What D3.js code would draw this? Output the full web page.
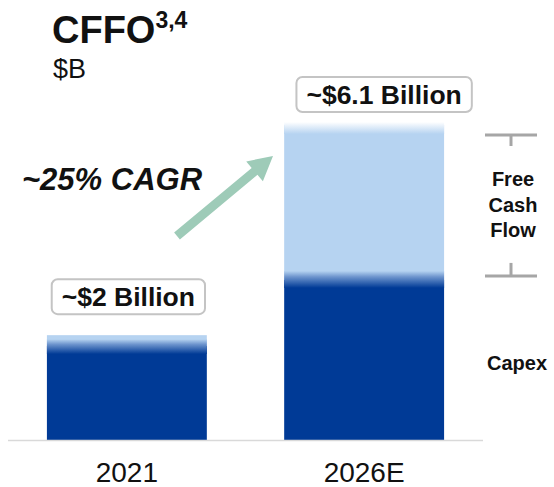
<!DOCTYPE html>
<html><head><meta charset="utf-8">
<script src="https://cdn.jsdelivr.net/npm/d3@7"></script>
<style>body{margin:0;background:#fff}svg{display:block;font-family:"Liberation Sans",Arial,sans-serif}</style>
</head><body>
<script>
const categories = ["2021", "2026E"];
const capex = [1.82, 3.1];
const freeCashFlow = [0.21, 3.0];
const totalLabels = ["~$2 Billion", "~$6.1 Billion"];
const seriesNames = ["Capex", "Free Cash Flow"];

const W = 554, H = 487;
const svg = d3.select("body").append("svg").attr("width", W).attr("height", H);
const defs = svg.append("defs");
const dark = "#003a96", light = "#b6d3f1";

const x = d3.scaleBand().domain(categories).range([8, 483]).paddingInner(0.326).paddingOuter(0.164);
const y = d3.scaleLinear().domain([0, 6.1]).range([440, 125]);

const gBand = defs.append("linearGradient").attr("id", "band").attr("x1", 0).attr("x2", 0).attr("y1", 0).attr("y2", 1);
gBand.append("stop").attr("offset", "0%").attr("stop-color", light);
gBand.append("stop").attr("offset", "35%").attr("stop-color", "#6d94cd");
gBand.append("stop").attr("offset", "100%").attr("stop-color", dark);
const gTop = defs.append("linearGradient").attr("id", "topfade").attr("x1", 0).attr("x2", 0).attr("y1", 0).attr("y2", 1);
gTop.append("stop").attr("offset", "0%").attr("stop-color", "#ffffff");
gTop.append("stop").attr("offset", "100%").attr("stop-color", light);

const data = categories.map((c, i) => ({i, cat: c, capex: capex[i], fcf: freeCashFlow[i], total: capex[i] + freeCashFlow[i], label: totalLabels[i]}));

const g = svg.append("g");
g.selectAll(".capex").data(data).join("rect")
  .attr("x", d => x(d.cat)).attr("width", x.bandwidth())
  .attr("y", d => y(d.capex)).attr("height", d => y(0) - y(d.capex)).attr("fill", dark);
g.selectAll(".fcf").data(data).join("rect")
  .attr("x", d => x(d.cat)).attr("width", x.bandwidth())
  .attr("y", d => y(d.total)).attr("height", d => y(d.capex) - y(d.total)).attr("fill", light);
g.selectAll(".band").data(data).join("rect")
  .attr("x", d => x(d.cat)).attr("width", x.bandwidth())
  .attr("y", d => Math.max(y(d.total) + 4, y(d.capex) - 9))
  .attr("height", d => y(d.capex) + 8 - Math.max(y(d.total) + 4, y(d.capex) - 9))
  .attr("fill", "url(#band)");
g.selectAll(".top").data(data.filter(d => d.fcf > 1)).join("rect")
  .attr("x", d => x(d.cat)).attr("width", x.bandwidth())
  .attr("y", d => y(d.total) - 3).attr("height", 12).attr("fill", "url(#topfade)");

svg.append("line").attr("x1", 8).attr("x2", 483).attr("y1", 440.5).attr("y2", 440.5)
  .attr("stroke", "#d9d9d9").attr("stroke-width", 1.5);

svg.selectAll(".cat").data(categories).join("text")
  .attr("x", d => x(d) + x.bandwidth() / 2).attr("y", 482)
  .attr("text-anchor", "middle").attr("font-size", 28).attr("fill", "#111").text(d => d);

const lab = svg.selectAll(".lab").data(data).join("g");
lab.each(function(d) {
  const gg = d3.select(this);
  const cx = x(d.cat) + x.bandwidth() / 2 + (d.i === 1 ? 20 : 1.5);
  const by = y(d.total) - (d.i === 1 ? 48 : 56);
  const t = gg.append("text").attr("x", cx).attr("y", by + 27).attr("text-anchor", "middle")
    .attr("font-size", 26.5).attr("font-weight", "bold").attr("fill", "#111").text(d.label);
  const bb = t.node().getBBox();
  gg.insert("rect", "text").attr("x", cx - bb.width / 2 - 10).attr("y", by).attr("width", bb.width + 20).attr("height", 35)
    .attr("rx", 6).attr("fill", "#fff").attr("stroke", "#c4c4c4").attr("stroke-width", 2);
});

const title = svg.append("text").attr("x", 52).attr("y", 43).attr("font-weight", "bold").attr("fill", "#111");
title.append("tspan").attr("font-size", 38).text("CFFO");
title.append("tspan").attr("font-size", 23).attr("dy", -15).text("3,4");
svg.append("text").attr("x", 53).attr("y", 78).attr("font-size", 27).attr("fill", "#111").text("$B");

svg.append("text").attr("x", 22).attr("y", 190).attr("font-size", 31).attr("font-weight", "bold")
  .attr("font-style", "italic").attr("fill", "#111").text("~25% CAGR");

(function() {
  const sx = 177, sy = 236, ex = 273, ey = 156;
  const dx = ex - sx, dy = ey - sy, L = Math.hypot(dx, dy);
  const ux = dx / L, uy = dy / L, nx = -uy, ny = ux;
  const hw = 4.5, headL = 24, headW = 13;
  const bx = ex - ux * headL, byy = ey - uy * headL;
  const pts = [
    [sx + nx * hw, sy + ny * hw], [bx + nx * hw, byy + ny * hw], [bx + nx * headW, byy + ny * headW],
    [ex, ey], [bx - nx * headW, byy - ny * headW], [bx - nx * hw, byy - ny * hw], [sx - nx * hw, sy - ny * hw]
  ];
  svg.append("path").attr("d", d3.line()(pts) + "Z").attr("fill", "#9ecbb8");
})();

const bx0 = 485, bx1 = 537, bxc = 511;
const bTop = y(data[1].total) + 10, bBot = y(data[1].capex) - 4;
const br = svg.append("g").attr("stroke", "#a6a6a6").attr("stroke-width", 3);
br.append("line").attr("x1", bx0).attr("x2", bx1).attr("y1", bTop).attr("y2", bTop);
br.append("line").attr("x1", bxc).attr("x2", bxc).attr("y1", bTop).attr("y2", bTop + 11);
br.append("line").attr("x1", bx0).attr("x2", bx1).attr("y1", bBot).attr("y2", bBot);
br.append("line").attr("x1", bxc).attr("x2", bxc).attr("y1", bBot).attr("y2", bBot - 13);

const fcfWords = seriesNames[1].split(" ");
svg.selectAll(".fw").data(fcfWords).join("text")
  .attr("x", bxc + 2).attr("y", (d, i) => 186 + i * 25.5).attr("text-anchor", "middle")
  .attr("font-size", 20).attr("font-weight", "bold").attr("fill", "#111").text(d => d);
svg.append("text").attr("x", 487).attr("y", 370).attr("font-size", 20).attr("font-weight", "bold")
  .attr("fill", "#111").text(seriesNames[0]);
</script>
</body></html>
